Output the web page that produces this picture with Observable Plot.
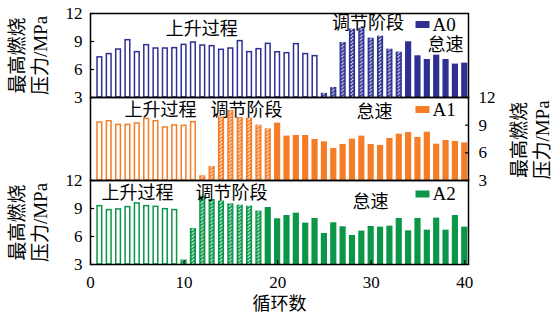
<!DOCTYPE html>
<html><head><meta charset="utf-8">
<script src="https://cdn.jsdelivr.net/npm/d3@7"></script>
<script src="https://cdn.jsdelivr.net/npm/@observablehq/plot@0.6"></script>
<style>
body{margin:0;background:#fff;}
#chart{width:552px;height:316px;position:relative;overflow:hidden;background:#fff;}
#chart svg{display:block;overflow:visible;}
</style></head><body><div id="chart"></div>
<script>
// ---- data ----
const cycles = [1,2,3,4,5,6,7,8,9,10,11,12,13,14,15,16,17,18,19,20,21,22,23,24,25,26,27,28,29,30,31,32,33,34,35,36,37,38,39,40];
const seriesNames = ["A0", "A1", "A2"];
const seriesColors = ["#2e3192", "#f47d27", "#0b9648"];
const pA0 = [7.3,7.65,8.14,9.14,7.86,8.61,8.25,8.25,8.29,8.64,8.89,8.57,8.5,8.11,8.25,9.04,7.86,8.18,8.75,7.85,7.75,8.72,7.65,7.43,3.45,4.07,8.89,10.33,10.4,9.36,9.57,8.18,7.86,8.97,7.47,7.07,7.54,7.07,6.58,6.68];
const pA1 = [9.29,9.43,9.03,9.03,9.18,9.68,9.43,8.75,8.97,8.93,9.32,3.51,4.52,9.9,10.59,9.83,9.76,9.0,8.6,9.22,7.81,7.88,7.88,7.45,7.19,6.47,6.91,7.48,7.81,6.91,6.8,7.56,8.02,8.2,7.67,8.24,6.94,7.34,7.23,7.08];
const pA2 = [9.25,8.83,8.9,9.15,9.54,9.25,9.18,8.93,8.83,3.5,6.86,10.33,9.97,9.79,9.5,9.36,9.25,8.72,9.11,7.9,8.25,8.5,7.43,7.93,6.32,7.47,7.04,6.11,6.58,7.07,7.0,7.11,7.93,6.61,7.93,6.68,7.97,6.68,8.25,7.0];
const riseEnd = [24, 11, 9];     // last cycle of 上升过程
const adjustEnd = [33, 19, 18];  // last cycle of 调节阶段
const stageNames = ["上升过程", "调节阶段", "怠速"];
const yTicks = [3, 6, 9, 12];
const xTicks = [0, 10, 20, 30, 40];
const yTitle = "最高燃烧\n压力/MPa";
const xTitle = "循环数";

const FONT = "'Liberation Serif', 'Noto Sans CJK SC', serif";
const swatch = {draw(ctx) { ctx.rect(-7, -3.5, 14, 7); }};

function panel(k, values, cfg) {
  const color = seriesColors[k], name = seriesNames[k];
  const rows = cycles.map((c, i) => ({c, v: values[i], stage: c <= riseEnd[k] ? 0 : c <= adjustEnd[k] ? 1 : 2}));
  const id = "hatch" + name;
  const note = (j) => Plot.text([stageNames[j]], {x: cfg.notes[j][0], y: cfg.notes[j][1], text: d => d, fontSize: 18, textAnchor: "middle", lineAnchor: "middle"});
  const marks = [
    Plot.rect(rows.filter(d => d.stage === 0), {x1: d => d.c - 0.25, x2: d => d.c + 0.25, y1: 3, y2: "v", fill: "white", stroke: color, strokeWidth: 1.5}),
    Plot.rect(rows.filter(d => d.stage === 1), {x1: d => d.c - 0.33, x2: d => d.c + 0.33, y1: 3, y2: "v", fill: `url(#${id})`}),
    Plot.rect(rows.filter(d => d.stage === 2), {x1: d => d.c - 0.33, x2: d => d.c + 0.33, y1: 3, y2: "v", fill: color}),
    Plot.frame({stroke: "black", strokeWidth: 1.5}),
    Plot.axisY(yTicks, {anchor: cfg.side, tickSize: -4, tickPadding: cfg.side === "left" ? 12 : 14, label: null, fontSize: 17, strokeWidth: 1.2}),
    Plot.text([yTitle], {frameAnchor: cfg.side, dx: cfg.side === "left" ? -62 : 62, dy: cfg.titleDy, rotate: -90, textAnchor: "middle", lineAnchor: "middle", fontSize: 19, lineHeight: 1.2, text: d => d}),
    note(0), note(1), note(2),
    Plot.dot([name], {frameAnchor: "top-right", dx: -46, dy: cfg.legendDy, symbol: swatch, fill: color, stroke: "none"}),
    Plot.text([name], {frameAnchor: "top-right", dx: -36, dy: cfg.legendDy, textAnchor: "start", lineAnchor: "middle", fontSize: 19, text: d => d})
  ];
  if (cfg.xAxis) {
    marks.push(Plot.axisX(xTicks, {anchor: "bottom", tickSize: -4, tickPadding: 15, label: null, fontSize: 17, strokeWidth: 1.2}));
    marks.push(Plot.text([xTitle], {frameAnchor: "bottom", dy: 40, fontSize: 18, textAnchor: "middle", lineAnchor: "middle", text: d => d}));
  }
  const svg = Plot.plot({
    width: 552, height: cfg.height,
    marginLeft: 90, marginRight: 84, marginTop: cfg.mt, marginBottom: cfg.mb,
    x: {domain: [0, 40.4], axis: null},
    y: {domain: [3, 12], axis: null},
    style: {background: "transparent", overflow: "visible", fontFamily: FONT, fontSize: "17px", color: "black"},
    marks
  });
  const xs = svg.scale("x");
  const x0 = xs.apply(0), step = xs.apply(1) - x0;
  const defs = d3.create("svg:defs");
  const pat = defs.append("pattern").attr("id", id).attr("patternUnits", "userSpaceOnUse")
    .attr("x", x0 - step / 2).attr("y", 0).attr("width", step).attr("height", 3.4);
  pat.append("rect").attr("width", step).attr("height", 3.4).attr("fill", color);
  pat.append("line").attr("x1", step / 2 - 1.3).attr("y1", 3.1).attr("x2", step / 2 + 1.3).attr("y2", 0.5)
    .attr("stroke", "white").attr("stroke-width", 1);
  svg.insertBefore(defs.node(), svg.firstChild);
  return svg;
}

const chart = document.getElementById("chart");
chart.append(panel(0, pA0, {height: 97, mt: 13, mb: 0, side: "left", titleDy: 0, legendDy: 11,
  notes: [[11.9, 10.3], [29.66, 10.95], [37.94, 8.6]]}));
chart.append(panel(1, pA1, {height: 83, mt: 0, mb: 0, side: "right", titleDy: 1, legendDy: 12,
  notes: [[7.48, 10.59], [16.67, 10.59], [30.35, 10.4]]}));
chart.append(panel(2, pA2, {height: 136, mt: 0, mb: 52, side: "left", titleDy: 0, legendDy: 13.5, xAxis: true,
  notes: [[5.02, 10.61], [15.07, 10.61], [29.93, 9.64]]}));
</script></body></html>
